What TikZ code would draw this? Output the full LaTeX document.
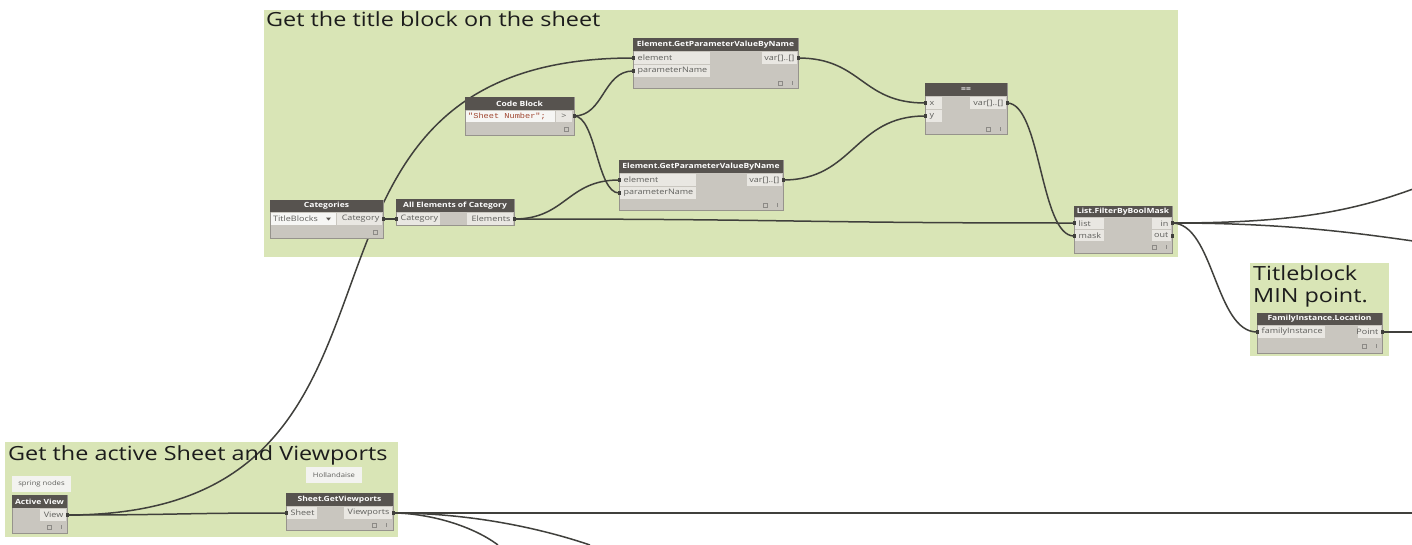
\documentclass[tikz,border=0pt]{standalone}
\usepackage{fontspec}
\setmainfont[FakeStretch=1.2]{Open Sans}
\newfontfamily\codefont[FakeStretch=1.15]{Liberation Mono}

\definecolor{grp}{RGB}{217,229,182}
\definecolor{hdr}{RGB}{87,83,79}
\definecolor{bodyc}{RGB}{201,198,191}
\definecolor{cellc}{RGB}{233,231,226}
\definecolor{codec}{RGB}{246,246,244}
\definecolor{wirec}{RGB}{64,64,60}
\definecolor{lbl}{RGB}{95,95,92}
\definecolor{edgec}{RGB}{150,147,140}
\definecolor{notefill}{RGB}{243,243,240}
\definecolor{codetxt}{RGB}{160,70,48}
\definecolor{titletxt}{RGB}{28,28,28}
\definecolor{iconc}{RGB}{140,138,134}

\pgfdeclarelayer{groups}
\pgfdeclarelayer{wires}
\pgfsetlayers{groups,wires,main}

% node frame: name, x1, y1, x2, y2, header bottom, title
\newcommand{\dynbox}[7]{%
  \path[dnbody] (#2,#3) rectangle (#4,#5);
  \path[dnhead] (#2,#3) rectangle (#4,#6);
  \node[dntitle] (#1) at ({(#2+#4)/2},{(#3+#6)/2}) {#7};}
% input cell: name, x1, y1, x2, y2, label
\newcommand{\incell}[6]{%
  \path[dncell] (#2,#3) rectangle (#4,#5);
  \node[portlbl, anchor=west] (#1) at (#2+3.5,{(#3+#5)/2}) {#6};}
% output cell: name, x1, y1, x2, y2, label
\newcommand{\outcell}[6]{%
  \path[dncell] (#2,#3) rectangle (#4,#5);
  \node[portlbl, anchor=east] (#1) at (#4-2.5,{(#3+#5)/2}) {#6};}
% footer icons
\newcommand{\fsq}[2]{\draw[ficon] (#1-2.2,#2-2.2) rectangle (#1+2.2,#2+2.2);}
\newcommand{\fin}[2]{\draw[ficon] (#1,#2-2) -- (#1,#2+2);}

\begin{document}
\begin{tikzpicture}[x=1pt,y=-1pt,
  dnbody/.style={fill=bodyc, draw=edgec, line width=0.5pt},
  dnhead/.style={fill=hdr},
  dntitle/.style={text=white, font=\fontsize{7.1}{8}\selectfont\bfseries, inner sep=0pt},
  dncell/.style={fill=cellc},
  portlbl/.style={text=lbl, font=\fontsize{7.5}{8}\selectfont, inner sep=0pt},
  portmark/.style={fill=wirec, minimum width=3pt, minimum height=4.5pt, inner sep=0pt, draw=none, rectangle},
  wire/.style={draw=wirec, line width=1.5pt},
  grptitle/.style={text=titletxt, font=\fontsize{19.5}{22}\selectfont, inner sep=0pt},
  notebox/.style={fill=notefill, text=lbl, font=\fontsize{6.4}{7}\selectfont, inner sep=0pt},
  ficon/.style={draw=iconc, line width=0.5pt}]

\useasboundingbox (0,0) rectangle (1412,544);

% group backgrounds
\begin{pgfonlayer}{groups}
  \fill[white] (0,0) rectangle (1412,544);
  \fill[grp] (264,10) rectangle (1178,257);
  \fill[grp] (1250,263) rectangle (1389,356);
  \fill[grp] (5,442) rectangle (398,537);
\end{pgfonlayer}

% group titles
\node[grptitle, anchor=base west] (t-title) at (266,26) {Get the title block on the sheet};
\node[grptitle, anchor=base west] (t-min1) at (1253,280) {Titleblock};
\node[grptitle, anchor=base west] (t-min2) at (1253,302) {MIN point.};
\node[grptitle, anchor=base west] (t-sheet) at (8,460) {Get the active Sheet and Viewports};

% notes
\node[notebox, minimum width=59pt, minimum height=16pt] (n-spring) at (41.5,484) {spring nodes};
\node[notebox, minimum width=56pt, minimum height=16pt] (n-holl) at (334,475) {Hollandaise};

% Categories
\dynbox{cat}{270}{200}{383}{238}{212}{Categories}
\path[fill=codec] (271,213) rectangle (336,225);
\node[portlbl, anchor=west] (cat-dd) at (273,219) {TitleBlocks};
\fill[hdr] (326,217.5) -- (331,217.5) -- (328.5,220.5) -- cycle;
\outcell{cat-lbl}{337}{213}{382}{225}{Category}
\node[portmark] (cat-out) at (383,219) {};
\fsq{375}{232}

% All Elements of Category
\dynbox{aec}{396}{199}{514}{225}{212}{All Elements of Category}
\incell{aec-l1}{397}{213}{440}{225}{Category}
\outcell{aec-l2}{467}{213}{513}{225}{Elements}
\node[portmark] (aec-in) at (396,219) {};
\node[portmark] (aec-out) at (514,219) {};

% Code Block
\dynbox{cb}{465}{97}{574}{135}{110}{Code Block}
\path[fill=codec] (466,111) rectangle (555,122);
\node[text=codetxt, font=\codefont\fontsize{7.5}{8}\selectfont, inner sep=0pt, anchor=west] (cb-code) at (468,116.5) {"Sheet Number";};
\path[dncell] (556,111) rectangle (572,122);
\node[portlbl] (cb-gt) at (564,116.5) {>};
\node[portmark] (cb-out) at (574,116) {};
\fsq{566}{129}

% Element.GetParameterValueByName (upper)
\dynbox{ga}{633}{38}{798}{88}{51}{Element.GetParameterValueByName}
\incell{ga-l1}{634}{52}{710}{64}{element}
\incell{ga-l2}{634}{65}{710}{77}{parameterName}
\outcell{ga-l3}{762}{52}{797}{64}{var[]..[]}
\node[portmark] (ga-in1) at (633,58) {};
\node[portmark] (ga-in2) at (633,71) {};
\node[portmark] (ga-out) at (798,58) {};
\fsq{780}{83}\fin{792}{83}

% Element.GetParameterValueByName (lower)
\dynbox{gb}{619}{160}{783}{210}{173}{Element.GetParameterValueByName}
\incell{gb-l1}{620}{174}{696}{186}{element}
\incell{gb-l2}{620}{187}{696}{199}{parameterName}
\outcell{gb-l3}{747}{174}{782}{186}{var[]..[]}
\node[portmark] (gb-in1) at (619,180) {};
\node[portmark] (gb-in2) at (619,193) {};
\node[portmark] (gb-out) at (783,180) {};
\fsq{765}{205}\fin{777}{205}

% ==
\dynbox{eq}{925}{83}{1007}{134}{96}{==}
\incell{eq-l1}{926}{97}{942}{109}{x}
\incell{eq-l2}{926}{110}{942}{122}{y}
\outcell{eq-l3}{970}{97}{1006}{109}{var[]..[]}
\node[portmark] (eq-in1) at (925,103) {};
\node[portmark] (eq-in2) at (925,116) {};
\node[portmark] (eq-out) at (1007,103) {};
\fsq{988}{129}\fin{1000}{129}

% List.FilterByBoolMask
\dynbox{lf}{1074}{206}{1172}{253}{217}{List.FilterByBoolMask}
\incell{lf-l1}{1075}{218}{1104}{229}{list}
\incell{lf-l2}{1075}{230}{1104}{241}{mask}
\outcell{lf-l3}{1152}{218}{1171}{229}{in}
\outcell{lf-l4}{1152}{230}{1171}{241}{out}
\node[portmark] (lf-in1) at (1074,223) {};
\node[portmark] (lf-in2) at (1074,236) {};
\node[portmark] (lf-out1) at (1172,223) {};
\node[portmark] (lf-out2) at (1172,236) {};
\fsq{1154}{247}\fin{1166}{247}

% FamilyInstance.Location
\dynbox{fl}{1257}{313}{1382}{353}{325}{FamilyInstance.Location}
\incell{fl-l1}{1258}{326}{1325}{338}{familyInstance}
\outcell{fl-l2}{1358}{326}{1381}{338}{Point}
\node[portmark] (fl-in) at (1257,332) {};
\node[portmark] (fl-out) at (1382,332) {};
\fsq{1364}{346}\fin{1376}{346}

% Active View
\dynbox{av}{12}{495}{67}{533}{508}{Active View}
\outcell{av-l1}{40}{509}{66}{521}{View}
\node[portmark] (av-out) at (67,515) {};
\fsq{49}{527}\fin{61}{527}

% Sheet.GetViewports
\dynbox{sv}{286}{493}{393}{530}{506}{Sheet.GetViewports}
\incell{sv-l1}{287}{507}{317}{519}{Sheet}
\outcell{sv-l2}{344}{507}{392}{519}{Viewports}
\node[portmark] (sv-in) at (286,513) {};
\node[portmark] (sv-out) at (393,513) {};
\fsq{374}{525}\fin{386}{525}

% loose wire ends at the picture border
\coordinate (e-up) at (1413,189);
\coordinate (e-dn) at (1413,241);
\coordinate (e-pt) at (1413,332);
\coordinate (e-vp) at (1413,513);
\coordinate (e-b1) at (498,545);
\coordinate (e-b2) at (590,545);

% wires
\begin{pgfonlayer}{wires}
  \draw[wire] (av-out.center) .. controls +(110,0) and +(-110,0) .. (sv-in.center);
  \draw[wire] (av-out.center) .. controls +(400,0) and +(-400,0) .. (ga-in1.center);
  \draw[wire] (cat-out.center) -- (aec-in.center);
  \draw[wire] (aec-out.center) .. controls +(52,0) and +(-52,0) .. (gb-in1.center);
  \draw[wire] (aec-out.center) .. controls +(280,0) and +(-280,0) .. (lf-in1.center);
  \draw[wire] (cb-out.center) .. controls +(30,0) and +(-30,0) .. (ga-in2.center);
  \draw[wire] (cb-out.center) .. controls +(22,0) and +(-22,0) .. (gb-in2.center);
  \draw[wire] (ga-out.center) .. controls +(64,0) and +(-64,0) .. (eq-in1.center);
  \draw[wire] (gb-out.center) .. controls +(71,0) and +(-71,0) .. (eq-in2.center);
  \draw[wire] (eq-out.center) .. controls +(34,0) and +(-34,0) .. (lf-in2.center);
  \draw[wire] (lf-out1.center) .. controls +(42,0) and +(-42,0) .. (fl-in.center);
  \draw[wire] (lf-out1.center) .. controls (1290,223) and (1350,212) .. (e-up);
  \draw[wire] (lf-out1.center) .. controls (1280,223) and (1350,232) .. (e-dn);
  \draw[wire] (fl-out.center) -- (e-pt);
  \draw[wire] (sv-out.center) -- (e-vp);
  \draw[wire] (sv-out.center) .. controls (425,513) and (470,524) .. (e-b1);
  \draw[wire] (sv-out.center) .. controls (470,513) and (540,528) .. (e-b2);
\end{pgfonlayer}
\end{tikzpicture}
\end{document}
